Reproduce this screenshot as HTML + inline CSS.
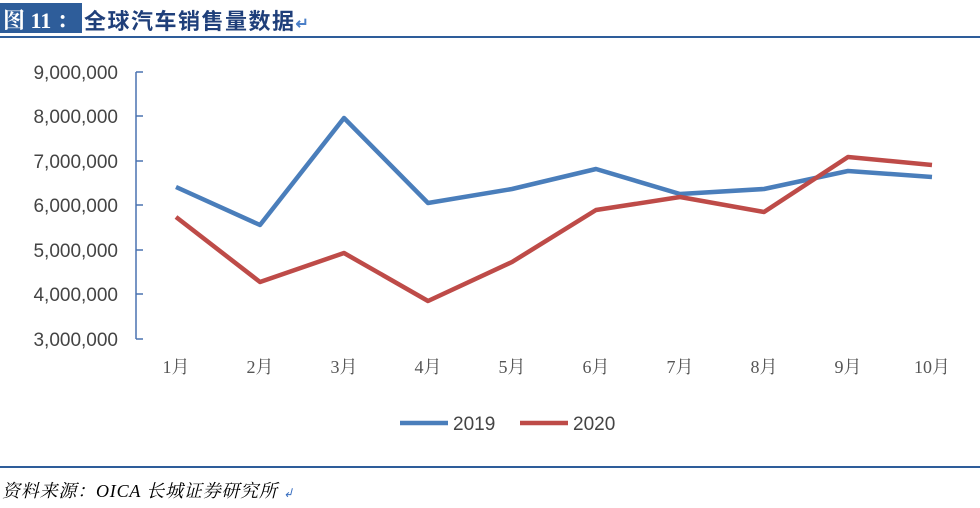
<!DOCTYPE html><html><head><meta charset="utf-8"><style>
body{margin:0;width:980px;height:508px;background:#fff;position:relative;overflow:hidden;font-family:"Liberation Sans","Noto Sans CJK SC",sans-serif}
.a{position:absolute}
</style></head><body>
<div class="a" style="left:0;top:3px;width:82px;height:30px;background:#2e5d9a"></div>
<div class="a" style="left:3px;top:4px;font:bold 22px 'Liberation Serif','Noto Serif CJK SC',serif;color:#fff;white-space:nowrap">图 11 ：</div>
<div class="a" style="left:84px;top:4px;font:bold 22px 'Liberation Sans','Noto Sans CJK SC',sans-serif;color:#1f3f7a;white-space:nowrap;letter-spacing:1.5px">全球汽车销售量数据<span style="color:#4a7fc8;font-size:16px">↵</span></div>
<div class="a" style="left:0;top:36px;width:980px;height:2px;background:#2e5d9a"></div>
<div class="a" style="left:0;top:466px;width:980px;height:2px;background:#2e5d9a"></div>
<div class="a" style="left:2px;top:477px;font:italic 18px 'Liberation Serif','Noto Serif CJK SC',serif;color:#000;white-space:nowrap;letter-spacing:0.8px">资料来源：OICA 长城证券研究所 <span style="color:#3a6fc0;font-size:12px">↲</span></div>
<svg class="a" style="left:0;top:0" width="980" height="508">
<g stroke="#4a72b0" stroke-width="1.5" fill="none">
<line x1="136" y1="72" x2="136" y2="339"/>
<line x1="136" y1="72" x2="143" y2="72"/><line x1="136" y1="116" x2="143" y2="116"/><line x1="136" y1="161" x2="143" y2="161"/><line x1="136" y1="205" x2="143" y2="205"/><line x1="136" y1="250" x2="143" y2="250"/><line x1="136" y1="294" x2="143" y2="294"/><line x1="136" y1="339" x2="143" y2="339"/>
</g>
<g font-family="Liberation Sans, sans-serif" font-size="19" fill="#444" text-anchor="end">
<text x="118" y="79">9,000,000</text><text x="118" y="123">8,000,000</text><text x="118" y="168">7,000,000</text><text x="118" y="212">6,000,000</text><text x="118" y="257">5,000,000</text><text x="118" y="301">4,000,000</text><text x="118" y="346">3,000,000</text>
</g>
<g font-family="Liberation Serif, Noto Serif CJK SC, serif" font-size="18" fill="#555" text-anchor="middle">
<text x="176" y="373">1月</text><text x="260" y="373">2月</text><text x="344" y="373">3月</text><text x="428" y="373">4月</text><text x="512" y="373">5月</text><text x="596" y="373">6月</text><text x="680" y="373">7月</text><text x="764" y="373">8月</text><text x="848" y="373">9月</text><text x="932" y="373">10月</text>
</g>
<polyline fill="none" stroke="#4a7ebb" stroke-width="4.5" stroke-linejoin="round" points="176,187 260,225 344,118 428,203 512,189 596,169 680,194 764,189 848,171 932,177"/>
<polyline fill="none" stroke="#be4b48" stroke-width="4.5" stroke-linejoin="round" points="176,217 260,282 344,253 428,301 512,262 596,210 680,197 764,212 848,157 932,165"/>
<line x1="400" y1="423" x2="448" y2="423" stroke="#4a7ebb" stroke-width="4.5"/>
<line x1="520" y1="423" x2="568" y2="423" stroke="#be4b48" stroke-width="4.5"/>
<g font-family="Liberation Sans, sans-serif" font-size="19" fill="#444"><text x="453" y="430">2019</text><text x="573" y="430">2020</text></g>
</svg>
</body></html>
